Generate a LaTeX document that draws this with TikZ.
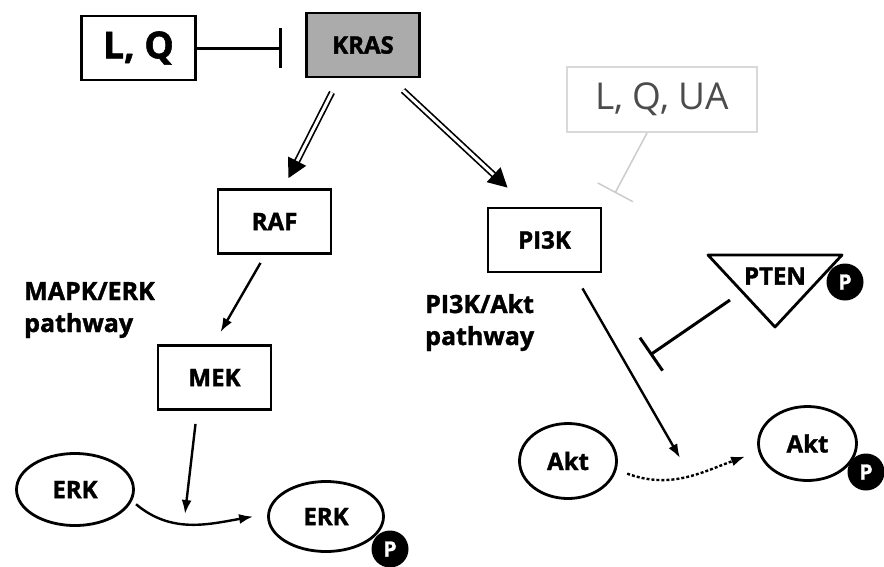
\documentclass[tikz,border=0pt]{standalone}
\usepackage{fontspec}
\setmainfont{Open Sans}[BoldFeatures={FakeBold=1.5}]
\usepackage{tikz}
\usetikzlibrary{shapes,arrows.meta}
\newcommand{\pbadge}[2]{
	\node [pdot] (#1) at (#2) {P};}
\newcommand{\pathlabel}[3]{
	\node [pathlbl] (#1) at (#2) {\begin{tabular}[t]{@{}l@{}}#3\end{tabular}};}

\begin{document}
\begin{tikzpicture}[x=1pt,y=-1pt,>={Latex[length=14pt,width=10pt]},
	prot/.style={draw, line width=2.8pt, inner sep=0pt, font=\bfseries\fontsize{24}{28}\selectfont},
	protbox/.style={prot, rectangle, minimum width=113pt, minimum height=64pt},
	oval/.style={prot, ellipse},
	pdot/.style={circle, fill=black, text=white, inner sep=0pt, minimum size=37pt, font=\bfseries\fontsize{21}{24}\selectfont},
	pathlbl/.style={anchor=base west, inner sep=0pt, font=\bfseries\fontsize{25}{32}\selectfont},
	dbl/.style={double, double distance=3pt, line width=1.7pt, -{Triangle[length=19pt,width=20pt]}},
	act/.style={line width=2.4pt, ->},
	inh/.style={line width=3pt, -{Bar[width=40pt]}}]
	\useasboundingbox (0,0) rectangle (884,566);
	\node [protbox, minimum width=114pt, font=\bfseries\fontsize{37}{40}\selectfont] (lq) at (138.5,48) {L, Q};
	\node [protbox, fill=black!33] (kras) at (363,45) {KRAS};
	\node [draw=black!15, line width=2pt, text=black!70, minimum width=190pt, minimum height=65pt, inner sep=0pt, font=\fontsize{37}{40}\selectfont] (lqua) at (662,99.5) {L, Q, UA};
	\node [protbox] (raf) at (274.5,221.5) {RAF};
	\node [protbox] (mek) at (214.5,377.5) {MEK};
	\node [protbox] (pi3k) at (544.5,240) {PI3K};
	\node [prot, draw=none] (pten) at (775,276) {PTEN};
	\node [oval, minimum width=117pt, minimum height=72pt] (erk1) at (75,489.5) {ERK};
	\node [oval, minimum width=115pt, minimum height=70pt] (erk2) at (326,516.5) {ERK};
	\node [oval, minimum width=97pt, minimum height=75pt] (akt1) at (568,461) {Akt};
	\node [oval, minimum width=98pt, minimum height=74pt] (akt2) at (807.5,443.5) {Akt};
	\draw [line width=2.8pt, line join=round] ([shift={(-67,-21)}]pten.center) -- ++(134,0) -- ++(-67,72) -- cycle;
	\pbadge{pp}{845,282}
	\pbadge{pe}{390,549}
	\pbadge{pa}{866,472}
	\pathlabel{mapk}{24,300}{MAPK/ERK\\pathway}
	\pathlabel{pakt}{425,313}{PI3K/Akt\\pathway}
	\coordinate (erkhit) at (185,514);
	\coordinate (akthit) at (680,458);
	\coordinate (uainh) at (615,193);
	\coordinate (pteninh) at (650,355);
	\draw [inh] (lq.east) -- ([xshift=-23]lq.east -| kras.west);
	\draw [inh, draw=black!20, line width=1.5pt] ([xshift=-15]lqua.south) -- (uainh);
	\draw [inh] ([shift={(-45,24)}]pten.center) -- (pteninh);
	\draw [dbl] ([shift={(-31,14)}]kras.south) -- ([shift={(14,-10)}]raf.north);
	\draw [dbl] ([shift={(40,12)}]kras.south) -- ([shift={(-37,-19)}]pi3k.north);
	\draw [act] ([shift={(-14,8)}]raf.south) -- ([shift={(6,-12)}]mek.north);
	\draw [act] ([shift={(-19,13)}]mek.south) -- (erkhit);
	\draw [act] ([xshift=6]erk1.-15) to [out=-40,in=190] ([xshift=-14]erk2.west);
	\draw [act] ([shift={(38,15)}]pi3k.south) -- (akthit);
	\draw [act, dash pattern=on 3pt off 2pt] ([xshift=12]akt1.-15) to [out=-20,in=200] ([shift={(-12,13)}]akt2.west);
\end{tikzpicture}
\end{document}
